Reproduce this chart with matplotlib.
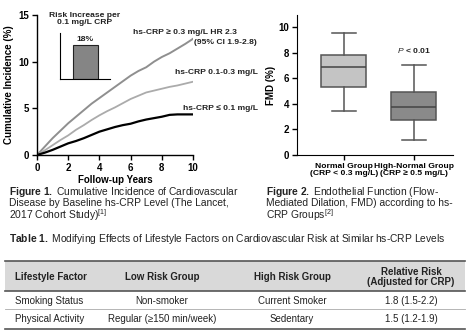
import numpy as np
import matplotlib
matplotlib.use('Agg')
import matplotlib.pyplot as plt

plt.rcParams['font.family'] = ['Liberation Sans', 'DejaVu Sans']
plt.rcParams['mathtext.fontset'] = 'custom'
plt.rcParams['mathtext.rm'] = 'Liberation Sans'
plt.rcParams['mathtext.it'] = 'Liberation Sans:italic'
plt.rcParams['mathtext.bf'] = 'Liberation Sans:bold'

NARROW = ['Liberation Sans Narrow', 'Liberation Sans', 'DejaVu Sans']

# --- Figure 1 data: cumulative incidence curves
years = [0, 0.5, 1, 1.5, 2, 2.5, 3, 3.5, 4, 4.5, 5, 5.5, 6, 6.5, 7, 7.5, 8, 8.5, 9, 9.5, 10]
crp_high = [0, 0.9, 1.8, 2.6, 3.4, 4.1, 4.8, 5.5, 6.1, 6.7, 7.3, 7.9, 8.5, 9.0, 9.4, 10.0, 10.5, 10.9, 11.4, 11.9, 12.45]
crp_mid = [0, 0.5, 1.05, 1.6, 2.1, 2.7, 3.2, 3.75, 4.25, 4.7, 5.1, 5.55, 6.0, 6.35, 6.7, 6.9, 7.1, 7.3, 7.45, 7.65, 7.85]
crp_low = [0, 0.25, 0.55, 0.9, 1.25, 1.5, 1.8, 2.15, 2.5, 2.75, 3.0, 3.2, 3.35, 3.6, 3.8, 3.95, 4.1, 4.3, 4.35, 4.35, 4.35]
inset_value = 18

# --- Figure 2 data: FMD boxplots
groups = ['Normal Group\n(CRP < 0.3 mg/L)', 'High-Normal Group\n(CRP \u2265 0.5 mg/L)']
fmd_whislo = [3.45, 1.15]
fmd_q1 = [5.35, 2.7]
fmd_med = [6.85, 3.75]
fmd_q3 = [7.85, 4.9]
fmd_whishi = [9.55, 7.05]

# --- Table 1 data
table_header = ['Lifestyle Factor', 'Low Risk Group', 'High Risk Group', 'Relative Risk\n(Adjusted for CRP)']
factors = ['Smoking Status', 'Physical Activity']
low_risk = ['Non-smoker', 'Regular (\u2265150 min/week)']
high_risk = ['Current Smoker', 'Sedentary']
rel_risk = ['1.8 (1.5-2.2)', '1.5 (1.2-1.9)']

W, H = 475, 334
fig = plt.figure(figsize=(W / 100, H / 100), dpi=100)
fig.patch.set_facecolor('white')


def fx(px):
    return px / W


def fy(py):
    return 1 - py / H


def box(l, t, r, b):
    return [fx(l), fy(b), fx(r) - fx(l), fy(t) - fy(b)]


txt = '#222222'

# ---------------- Figure 1
ax1 = fig.add_axes(box(37, 15, 193, 155))
ax1.plot(years, crp_high, color='#8f8f8f', lw=1.4)
ax1.plot(years, crp_mid, color='#ababab', lw=1.3)
ax1.plot(years, crp_low, color='black', lw=1.6)
ax1.set_xlim(0, 10)
ax1.set_ylim(0, 15)
ax1.set_xticks([0, 2, 4, 6, 8, 10])
ax1.set_yticks([0, 5, 10, 15])
for s in ['top', 'right']:
    ax1.spines[s].set_visible(False)
for s in ['left', 'bottom']:
    ax1.spines[s].set_linewidth(1.0)
ax1.tick_params(length=3.5, width=1.0, labelsize=7, pad=2)
for lab in ax1.get_xticklabels() + ax1.get_yticklabels():
    lab.set_fontweight('bold')
    lab.set_family(NARROW)
ax1.set_xlabel('Follow-up Years', fontsize=7, fontweight='bold', family=NARROW, labelpad=2)
ax1.set_ylabel('Cumulative Incidence (%)', fontsize=7, fontweight='bold', family=NARROW, labelpad=3)

lab_kw = dict(fontsize=6.1, fontweight='bold', family=NARROW, color=txt)
fig.text(fx(133), fy(32), 'hs-CRP \u2265 0.3 mg/L HR 2.3', va='center', ha='left', **lab_kw)
fig.text(fx(257), fy(43), '(95% CI 1.9-2.8)', va='center', ha='right', **lab_kw)
fig.text(fx(258), fy(73), 'hs-CRP 0.1-0.3 mg/L', va='center', ha='right', **lab_kw)
fig.text(fx(258), fy(108), 'hs-CRP \u2264 0.1 mg/L', va='center', ha='right', **lab_kw)

# inset bar
axi = fig.add_axes(box(60, 33, 110, 79))
axi.bar([0], [inset_value], width=1.0, color='#858585', edgecolor='#222222', lw=0.8)
axi.set_xlim(-1, 1)
axi.set_ylim(0, 24.3)
axi.set_xticks([])
axi.set_yticks([])
axi.patch.set_alpha(0)
for s in ['top', 'right']:
    axi.spines[s].set_visible(False)
for s in ['left', 'bottom']:
    axi.spines[s].set_linewidth(0.8)
axi.text(0, inset_value + 1.0, f'{inset_value}%', ha='center', va='bottom', **lab_kw)
fig.text(fx(85), fy(19), 'Risk Increase per\n0.1 mg/L CRP', ha='center', va='center',
         linespacing=1.1, **lab_kw)

# ---------------- Figure 2
ax2 = fig.add_axes(box(297, 15, 453, 155))
stats = []
for i in range(len(groups)):
    stats.append({'whislo': fmd_whislo[i], 'q1': fmd_q1[i], 'med': fmd_med[i],
                  'q3': fmd_q3[i], 'whishi': fmd_whishi[i], 'fliers': []})
bp = ax2.bxp(stats, positions=[1, 2], widths=0.64, capwidths=0.34, patch_artist=True,
             showfliers=False,
             boxprops=dict(edgecolor='#555555', lw=1.1),
             whiskerprops=dict(color='#555555', lw=1.1),
             capprops=dict(color='#555555', lw=1.1),
             medianprops=dict(color='#444444', lw=1.1))
for patch, c in zip(bp['boxes'], ['#c4c4c4', '#8a8a8a']):
    patch.set_facecolor(c)
ax2.set_xlim(0.33, 2.56)
ax2.set_ylim(0, 10.95)
ax2.set_yticks([0, 2, 4, 6, 8, 10])
ax2.set_xticks([1, 2])
ax2.set_xticklabels(groups)
for s in ['top', 'right']:
    ax2.spines[s].set_visible(False)
ax2.tick_params(length=3.5, width=1.0, labelsize=7, pad=2)
for lab in ax2.get_yticklabels():
    lab.set_fontweight('bold')
    lab.set_family(NARROW)
for lab in ax2.get_xticklabels():
    lab.set_fontweight('bold')
    lab.set_family(NARROW)
    lab.set_fontsize(6.1)
    lab.set_linespacing(1.1)
ax2.set_ylabel('FMD (%)', fontsize=7, fontweight='bold', family=NARROW, labelpad=2)
ax2.text(2, 7.8, r'$\mathit{P}$ < 0.01', ha='center', va='bottom', **lab_kw)

# ---------------- captions
cap_kw = dict(fontsize=7.4, color=txt, va='top', ha='left', linespacing=0.93)
fig.text(fx(9), fy(185), '$\\mathbf{Figure\\ 1.}$ Cumulative Incidence of Cardiovascular\n'
         'Disease by Baseline hs-CRP Level (The Lancet,\n'
         '2017 Cohort Study)$^{[1]}$', **cap_kw)
fig.text(fx(266), fy(185), '$\\mathbf{Figure\\ 2.}$ Endothelial Function (Flow-\n'
         'Mediated Dilation, FMD) according to hs-\n'
         'CRP Groups$^{[2]}$', **cap_kw)
fig.text(fx(9), fy(239), r'$\mathbf{Table\ 1.}$ Modifying Effects of Lifestyle Factors on '
         'Cardiovascular Risk at Similar hs-CRP Levels', fontsize=7.4, color=txt,
         va='center', ha='left')

# ---------------- table
axt = fig.add_axes([0, 0, 1, 1], zorder=-1)
axt.set_xlim(0, W)
axt.set_ylim(H, 0)
axt.axis('off')
axt.fill_between([5, 465], 261, 291, color='#d9d9d9', lw=0)
axt.plot([5, 465], [261, 261], color='#555555', lw=1.2)
axt.plot([5, 465], [291, 291], color='#555555', lw=1.2)
axt.plot([5, 465], [309, 309], color='#aaaaaa', lw=0.6)
axt.plot([5, 465], [329, 329], color='#555555', lw=1.2)

col_x = [15, 162, 292, 411]
col_ha = ['left', 'center', 'center', 'center']
for x, ha, h in zip(col_x, col_ha, table_header):
    axt.text(x, 277, h, ha=ha, va='center', fontsize=7, fontweight='bold', color=txt,
             linespacing=1.1)
row_y = [301, 319.5]
for i in range(len(factors)):
    for x, ha, v in zip(col_x, col_ha, [factors[i], low_risk[i], high_risk[i], rel_risk[i]]):
        axt.text(x, row_y[i], v, ha=ha, va='center', fontsize=7, color=txt)

fig.savefig('out.png', dpi=100, facecolor='white')
